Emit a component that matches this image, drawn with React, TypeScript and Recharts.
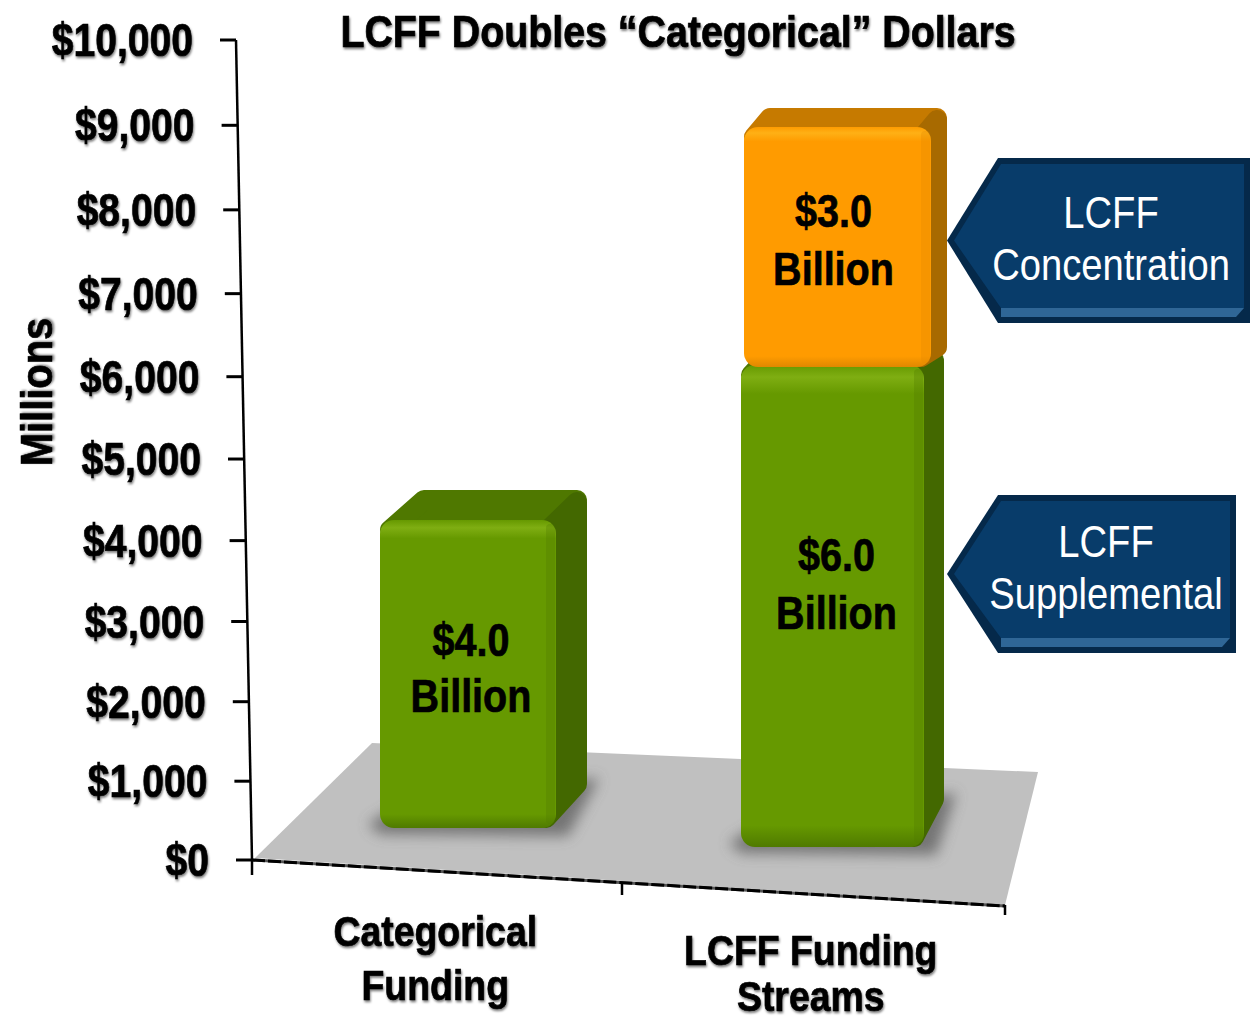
import React from "react";
import { BarChart, Bar, XAxis, YAxis, Customized } from "recharts";

const categories = ["Categorical Funding", "LCFF Funding Streams"];
const supplementalValues = [4000, 6000];
const concentrationValues = [null, 3000];
const yTicks = [0, 1000, 2000, 3000, 4000, 5000, 6000, 7000, 8000, 9000, 10000];
const categoryLines = [["Categorical", "Funding"], ["LCFF Funding", "Streams"]];
const titleText = "LCFF Doubles “Categorical” Dollars";
const yAxisTitle = "Millions";
const calloutLines = [["LCFF", "Concentration"], ["LCFF", "Supplemental"]];

const data = categories.map((name, i) => ({
  name,
  supplemental: supplementalValues[i],
  concentration: concentrationValues[i],
}));

const W = 1254, H = 1023;
const LEFT = 252, TOP = 40, BOTTOM_Y = 860, RIGHT_X = 1005;
const FONT = '"Liberation Sans", Arial, sans-serif';
const SHADOW = "drop-shadow(1px 2px 1px rgba(0,0,0,0.5))";

// condensed lettering: no narrow face is installed, so squeeze a regular one
const Narrow = ({ x, y, sx = 0.86, rotate = 0, bold = true, size = 46, fill = "#000", shadow = false, children }: any) => (
  <text
    transform={`translate(${x},${y})${rotate ? ` rotate(${rotate})` : ""} scale(${sx},1)`}
    textAnchor="middle"
    dominantBaseline="central"
    fontFamily={FONT}
    fontWeight={bold ? "bold" : "normal"}
    fontSize={size}
    fill={fill}
    stroke={bold ? fill : "none"}
    strokeWidth={bold ? 0.7 : 0}
    style={shadow ? { filter: SHADOW } : undefined}
  >
    {children}
  </text>
);

// 3-D look: where each face sits relative to the flat bar that the scale gives
const faceGreen = [
  { shift: 28, w: 176, topN: -12, botN: -32, backTop: 30, dx: 31, sideCut: 44, inset: 44, labelUp: 34, labelDown: 22, labelDx: 3 },
  { shift: 16, w: 183, topN: -3, botN: -13, backTop: 15, dx: 20, sideCut: 48, inset: 24, labelUp: 51, labelDown: 7, labelDx: 4 },
];
const faceOrange = { shift: 21, w: 187, topN: 5, botN: -1, backTop: 19, dx: 16, sideCut: 20, inset: 26, labelUp: 36, labelDown: 22, labelDx: -4 };

const GREEN = { id: "g", light: "#7fae12", main: "#669900", dark: "#4f7a00", top: "#4f7800", side: "#436800" };
const ORANGE = { id: "o", light: "#ffb015", main: "#ff9b00", dark: "#e08800", top: "#c67a00", side: "#a86a00" };

function Solid({ x, y, width, height, value, face, col, shadow }: any) {
  const cx = x + width / 2;
  const l = cx + face.shift - face.w / 2;
  const r = l + face.w;
  const t = y + face.topN;
  const b = y + height + face.botN;
  const bt = t - face.backTop;
  const rx = 14;
  const midY = (t + b) / 2;
  const tx = (l + r) / 2 + face.labelDx;
  const capR = 10;
  return (
    <g>
      {shadow && (
        <polygon
          points={`${l - 12},${b - 4} ${l + 30},${b - 30} ${r + face.dx + 12},${b - face.sideCut - 6} ${r + 12},${b + 8} ${l},${b + 6}`}
          fill="#555"
          opacity={0.7}
          filter="url(#floorBlur)"
        />
      )}
      <polygon
        points={`${l + capR},${t + capR} ${l + face.inset},${bt + capR} ${r + face.dx - capR},${bt + capR} ${r},${t + capR}`}
        fill={col.top}
        stroke={col.top}
        strokeWidth={capR * 2}
        strokeLinejoin="round"
      />
      <polygon
        points={`${r - capR},${t + capR + 2} ${r + face.dx - capR},${bt + capR + 2} ${r + face.dx - capR},${b - face.sideCut} ${r - capR},${b - capR}`}
        fill={col.side}
        stroke={col.side}
        strokeWidth={capR * 2}
        strokeLinejoin="round"
      />
      <rect x={l} y={t} width={face.w} height={b - t} rx={rx} ry={rx} fill={`url(#front-${col.id})`} />
      <rect x={r - 10} y={t + 4} width={9} height={b - t - 8} rx={4} fill={col.dark} opacity={0.3} />
      <Narrow x={tx} y={midY - face.labelUp}>{`$${(value / 1000).toFixed(1)}`}</Narrow>
      <Narrow x={tx} y={midY + face.labelDown}>Billion</Narrow>
    </g>
  );
}

const GreenBar = (p: any) => <Solid {...p} value={p.supplemental} face={faceGreen[p.index]} col={GREEN} shadow />;
const OrangeBar = (p: any) =>
  p.concentration == null ? <g /> : <Solid {...p} value={p.concentration} face={faceOrange} col={ORANGE} />;

// the axis wall leans and recedes: shift a flat scale position onto it
const axisLean = (v: number) => (16 * v) / 10000;
const axisSink = (v: number) => {
  const t = v / 10000;
  return 820 * t - (820 * t) / (1 + 0.045 * (1 - t));
};

const YTick = ({ y, payload }: any) => {
  const v = payload.value;
  const ax = LEFT - axisLean(v);
  const yy = y + axisSink(v);
  const label = "$" + v.toLocaleString("en-US");
  const textW = (label.length - (v >= 1000 ? 1 : 0)) * 0.556 * 46 * 0.85 + (v >= 1000 ? 0.278 * 46 * 0.85 : 0);
  return (
    <g>
      <line x1={ax - 16} x2={ax} y1={yy} y2={yy} stroke="#000" strokeWidth={3} />
      <Narrow x={ax - 43 - textW / 2} y={yy} sx={0.85} shadow>{label}</Narrow>
    </g>
  );
};

const xLabelShift = [{ dx: -5, y: 932, gap: 54 }, { dx: -6, y: 951, gap: 46 }];
const XTick = ({ x, index }: any) => (
  <g>
    {categoryLines[index].map((line, i) => (
      <Narrow key={line} x={x + xLabelShift[index].dx} y={xLabelShift[index].y + i * xLabelShift[index].gap} sx={0.87} size={43} shadow>
        {line}
      </Narrow>
    ))}
  </g>
);

const Callout = ({ tipX, baseX, right, top, bottom, lines, cx, y1, y2 }: any) => {
  const mid = top + (bottom - top) * 0.5;
  return (
    <g>
      <polygon points={`${tipX},${mid} ${baseX},${top} ${right},${top} ${right},${bottom} ${baseX},${bottom}`} fill="#05294a" />
      <polygon
        points={`${tipX + 7},${mid} ${baseX + 3},${top + 6} ${right - 6},${top + 6} ${right - 6},${bottom - 15} ${baseX + 3},${bottom - 15}`}
        fill="#083c6a"
      />
      <polygon
        points={`${baseX + 3},${bottom - 15} ${right - 6},${bottom - 15} ${right - 14},${bottom - 6} ${baseX + 3},${bottom - 6}`}
        fill="#2f6696"
      />
      <Narrow x={cx} y={y1} sx={0.868} bold={false} size={44} fill="#fff">{lines[0]}</Narrow>
      <Narrow x={cx} y={y2} sx={0.868} bold={false} size={44} fill="#fff">{lines[1]}</Narrow>
    </g>
  );
};

const Floor = () => (
  <g>
    <defs>
      <filter id="floorBlur" x="-20%" y="-50%" width="140%" height="200%">
        <feGaussianBlur stdDeviation="7" />
      </filter>
      {[GREEN, ORANGE].map((c) => (
        <linearGradient key={c.id} id={`front-${c.id}`} x1="0" y1="0" x2="0" y2="1">
          <stop offset="0" stopColor={c.main} />
          <stop offset="0.025" stopColor={c.light} />
          <stop offset="0.06" stopColor={c.main} />
          <stop offset="0.955" stopColor={c.main} />
          <stop offset="1" stopColor={c.dark} />
        </linearGradient>
      ))}
    </defs>
    <polygon points={`255,858 372,743 1038,772 ${RIGHT_X},905`} fill="#c0c0c0" />
    <line x1={LEFT} y1={BOTTOM_Y} x2={RIGHT_X} y2={906} stroke="#555" strokeWidth={3} />
    <line x1={LEFT} y1={BOTTOM_Y} x2={RIGHT_X} y2={906} stroke="#000" strokeWidth={3} strokeDasharray="13 3" />
    <line x1={LEFT} y1={BOTTOM_Y} x2={LEFT} y2={875} stroke="#000" strokeWidth={2.5} />
    <line x1={622} y1={883} x2={622} y2={895} stroke="#000" strokeWidth={2.5} />
    <line x1={RIGHT_X} y1={905} x2={RIGHT_X} y2={915} stroke="#000" strokeWidth={2.5} />
    <line x1={236} y1={TOP} x2={LEFT} y2={BOTTOM_Y} stroke="#000" strokeWidth={2.5} />
  </g>
);

const Overlay = () => (
  <g>
    <Narrow x={678} y={32} sx={0.894} size={44} shadow>{titleText}</Narrow>
    <Narrow x={37} y={392} sx={0.907} size={44} rotate={-90} shadow>{yAxisTitle}</Narrow>
    <Callout tipX={947} baseX={998} right={1250} top={158} bottom={323} lines={calloutLines[0]} cx={1111} y1={213} y2={265} />
    <Callout tipX={947} baseX={998} right={1236} top={495} bottom={653} lines={calloutLines[1]} cx={1106} y1={542} y2={594} />
  </g>
);

export default function App() {
  return (
    <div style={{ position: "absolute", left: 0, top: 0, width: W, height: H, background: "#fff" }}>
      <BarChart width={W} height={H} data={data} margin={{ top: TOP, right: W - RIGHT_X, bottom: 0, left: 0 }} barSize={180}>
        <Customized component={Floor} />
        <XAxis dataKey="name" height={H - BOTTOM_Y} axisLine={false} tickLine={false} interval={0} tick={<XTick />} />
        <YAxis width={LEFT} domain={[0, 10000]} ticks={yTicks} interval={0} axisLine={false} tickLine={false} tick={<YTick />} />
        <Bar dataKey="supplemental" stackId="a" isAnimationActive={false} shape={GreenBar} />
        <Bar dataKey="concentration" stackId="a" isAnimationActive={false} shape={OrangeBar} />
        <Customized component={Overlay} />
      </BarChart>
    </div>
  );
}
